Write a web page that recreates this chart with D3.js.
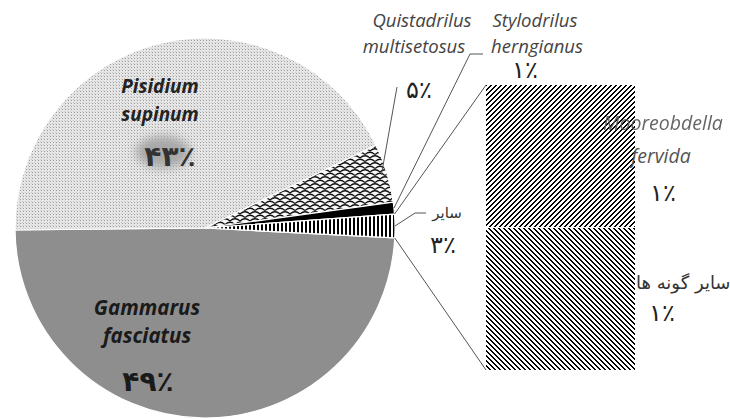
<!DOCTYPE html>
<html>
<head>
<meta charset="utf-8">
<script src="https://cdn.jsdelivr.net/npm/d3@7"></script>
<style>
  html, body { margin: 0; padding: 0; background: #fff; }
  svg { display: block; }
  .lat { font-family: "Open Sans", "Lato", "Liberation Sans", sans-serif; font-style: italic; }
  .fa { font-family: "DejaVu Sans", "Noto Sans", sans-serif; }
</style>
</head>
<body>
<svg id="chart" width="730" height="419"></svg>
<script>
// ---- data ----
const pieCategories = ["Gammarus fasciatus", "Pisidium supinum", "Quistadrilus multisetosus", "Stylodrilus herngianus", "سایر"];
const pieMainValues = [49, 43, 5, 1];
const pieLabels = ["۴۹٪", "۴۳٪", "۵٪", "۱٪", "۳٪"];
const barCategories = ["Mooreobdella fervida", "سایر گونه ها"];
const barValues = [1, 1];
const barLabels = ["۱٪", "۱٪"];

const pieValues = pieMainValues.concat([d3.sum(barValues)]);

// ---- layout ----
const cx = 205, cy = 228, R = 190;
const barX0 = 486, barX1 = 635, barTop = 85, barBottom = 370;
const deg = Math.PI / 180;

const svg = d3.select("#chart");
const defs = svg.append("defs");

// patterns
const pDots = defs.append("pattern").attr("id", "pDots").attr("patternUnits", "userSpaceOnUse").attr("width", 3).attr("height", 3);
pDots.append("rect").attr("width", 3).attr("height", 3).attr("fill", "#e6e6e6");
pDots.append("rect").attr("x", 1).attr("y", 1).attr("width", 1).attr("height", 1).attr("fill", "#9c9c9c");
pDots.append("rect").attr("x", 0).attr("y", 0).attr("width", 1).attr("height", 1).attr("fill", "#cccccc");

const pShingle = defs.append("pattern").attr("id", "pShingle").attr("patternUnits", "userSpaceOnUse").attr("width", 10).attr("height", 7);
pShingle.append("rect").attr("width", 10).attr("height", 7).attr("fill", "#fafafa");
pShingle.append("path").attr("d", "M-5,7 Q0,2.5 5,7 Q10,2.5 15,7 M0,3.5 Q5,-1 10,3.5")
  .attr("fill", "none").attr("stroke", "#111").attr("stroke-width", 1.2);
pShingle.append("path").attr("d", "M-5,0 Q0,-4.5 5,0 Q10,-4.5 15,0")
  .attr("fill", "none").attr("stroke", "#111").attr("stroke-width", 1.2);

const pVert = defs.append("pattern").attr("id", "pVert").attr("patternUnits", "userSpaceOnUse").attr("width", 4).attr("height", 4);
pVert.append("rect").attr("width", 4).attr("height", 4).attr("fill", "#fff");
pVert.append("rect").attr("width", 2).attr("height", 4).attr("fill", "#000");

// pixel-exact diagonal hatching
function diag(id, forward) {
  const n = 5;
  const p = defs.append("pattern").attr("id", id).attr("patternUnits", "userSpaceOnUse")
    .attr("width", n).attr("height", n).attr("patternTransform", `translate(${barX0},${barTop})`);
  p.append("rect").attr("width", n).attr("height", n).attr("fill", "#fff");
  for (let i = 0; i < n; i++) {
    const base = forward ? (n - 1 - i) : i;
    [0, 1].forEach(k => {
      p.append("rect").attr("x", i).attr("y", (base + k) % n).attr("width", 1).attr("height", 1)
        .attr("fill", "#000").attr("shape-rendering", "crispEdges");
    });
  }
}
diag("pFwd", true);
diag("pBack", false);

const blur = defs.append("filter").attr("id", "blur").attr("x", "-50%").attr("y", "-50%").attr("width", "200%").attr("height", "200%");
blur.append("feGaussianBlur").attr("stdDeviation", 5);

const pieFills = ["#8e8e8e", "url(#pDots)", "url(#pShingle)", "#000", "url(#pVert)"];
const barFills = ["url(#pFwd)", "url(#pBack)"];

// ---- pie ----
const start = 93 * deg;
const pie = d3.pie().sort(null).value(d => d).startAngle(start).endAngle(start + 2 * Math.PI);
const arcs = pie(pieValues);
const arc = d3.arc().innerRadius(0).outerRadius(R);

const g = svg.append("g").attr("transform", `translate(${cx},${cy})`);
g.selectAll("path.slice").data(arcs).join("path")
  .attr("class", "slice")
  .attr("d", arc)
  .attr("fill", (d, i) => pieFills[i])
  .attr("stroke", "#fff")
  .attr("stroke-width", 1.2);

function pt(a, r) { return [cx + r * Math.sin(a), cy - r * Math.cos(a)]; }

// ---- bar ----
const y = d3.scaleLinear().domain([0, d3.sum(barValues)]).range([barTop, barBottom]);
let cum = 0;
const barSegs = barValues.map((v, i) => { const s = { i, y0: cum, y1: cum + v }; cum += v; return s; });

svg.append("g").selectAll("rect").data(barSegs).join("rect")
  .attr("x", barX0).attr("width", barX1 - barX0)
  .attr("y", d => y(d.y0)).attr("height", d => y(d.y1) - y(d.y0))
  .attr("fill", d => barFills[d.i])
  .attr("shape-rendering", "crispEdges");
svg.append("line").attr("x1", barX0).attr("x2", barX1).attr("y1", y(barSegs[0].y1)).attr("y2", y(barSegs[0].y1))
  .attr("stroke", "#fff").attr("stroke-width", 1);

// labels for bar
const lab = svg.append("g");
lab.append("text").attr("class", "lat").attr("x", 663).attr("y", 130).attr("text-anchor", "middle")
  .attr("font-size", 19.5).attr("fill", "#555").attr("opacity", 0.9).text("Mooreobdella");
lab.append("text").attr("class", "lat").attr("x", 661).attr("y", 163).attr("text-anchor", "middle")
  .attr("font-size", 19.5).attr("fill", "#555").text("fervida");
lab.append("text").attr("class", "fa").attr("x", 663).attr("y", 201).attr("text-anchor", "middle")
  .attr("font-size", 24).attr("fill", "#222").text(barLabels[0]);
lab.append("text").attr("class", "fa").attr("x", 636).attr("y", 289).attr("text-anchor", "start")
  .attr("font-size", 18).attr("fill", "#333").text(barCategories[1]);
lab.append("text").attr("class", "fa").attr("x", 662).attr("y", 321).attr("text-anchor", "middle")
  .attr("font-size", 24).attr("fill", "#222").text(barLabels[1]);

// ---- connectors ----
const other = arcs[4];
const pTop = pt(other.startAngle, R), pBot = pt(other.endAngle, R);
const lines = svg.append("g").attr("stroke", "#555").attr("stroke-width", 1).attr("fill", "none");
lines.append("line").attr("x1", pTop[0]).attr("y1", pTop[1]).attr("x2", barX0).attr("y2", barTop);
lines.append("line").attr("x1", pBot[0]).attr("y1", pBot[1]).attr("x2", barX0).attr("y2", barBottom);

// leader lines
const mid = d => (d.startAngle + d.endAngle) / 2;
const pQ = pt(mid(arcs[2]), R * 0.97);
lines.append("polyline").attr("points", `397,87 ${pQ[0]},${pQ[1]}`);
const pS = pt(mid(arcs[3]), R);
lines.append("polyline").attr("points", `483,54 470,54 ${pS[0]},${pS[1]}`);
const pO = pt(mid(arcs[4]), R);
lines.append("polyline").attr("points", `426,213 415,213 ${pO[0]},${pO[1]}`);

// ---- pie labels ----
svg.append("ellipse").attr("cx", 163).attr("cy", 152).attr("rx", 27).attr("ry", 16)
  .attr("fill", "#a8a8a8").attr("filter", "url(#blur)");

const T = svg.append("g");
T.append("text").attr("class", "lat").attr("x", 160).attr("y", 93).attr("text-anchor", "middle")
  .attr("font-size", 19).attr("font-weight", "bold").attr("fill", "#222").text("Pisidium");
T.append("text").attr("class", "lat").attr("x", 160).attr("y", 121).attr("text-anchor", "middle")
  .attr("font-size", 19).attr("font-weight", "bold").attr("fill", "#222").text("supinum");
T.append("text").attr("class", "fa").attr("x", 170).attr("y", 166).attr("text-anchor", "middle")
  .attr("font-size", 28).attr("font-weight", "bold").attr("fill", "#333").text(pieLabels[1]);

T.append("text").attr("class", "lat").attr("x", 147).attr("y", 315).attr("text-anchor", "middle")
  .attr("font-size", 20.5).attr("font-weight", "bold").attr("fill", "#1a1a1a").text("Gammarus");
T.append("text").attr("class", "lat").attr("x", 147).attr("y", 343).attr("text-anchor", "middle")
  .attr("font-size", 20.5).attr("font-weight", "bold").attr("fill", "#1a1a1a").text("fasciatus");
T.append("text").attr("class", "fa").attr("x", 148).attr("y", 391).attr("text-anchor", "middle")
  .attr("font-size", 28).attr("font-weight", "bold").attr("fill", "#1a1a1a").text(pieLabels[0]);

T.append("text").attr("class", "lat").attr("x", 422).attr("y", 27).attr("text-anchor", "middle")
  .attr("font-size", 18.5).attr("fill", "#444").text("Quistadrilus");
T.append("text").attr("class", "lat").attr("x", 414).attr("y", 53).attr("text-anchor", "middle")
  .attr("font-size", 18.5).attr("fill", "#444").text("multisetosus");
T.append("text").attr("class", "fa").attr("x", 419).attr("y", 98).attr("text-anchor", "middle")
  .attr("font-size", 24).attr("fill", "#222").text(pieLabels[2]);

T.append("text").attr("class", "lat").attr("x", 535).attr("y", 27).attr("text-anchor", "middle")
  .attr("font-size", 18.5).attr("fill", "#444").text("Stylodrilus");
T.append("text").attr("class", "lat").attr("x", 537).attr("y", 53).attr("text-anchor", "middle")
  .attr("font-size", 18.5).attr("fill", "#444").text("herngianus");
T.append("text").attr("class", "fa").attr("x", 525).attr("y", 78).attr("text-anchor", "middle")
  .attr("font-size", 24).attr("fill", "#222").text(pieLabels[3]);

T.append("text").attr("class", "fa").attr("x", 447).attr("y", 218).attr("text-anchor", "middle")
  .attr("font-size", 15).attr("fill", "#333").text(pieCategories[4]);
T.append("text").attr("class", "fa").attr("x", 443).attr("y", 253).attr("text-anchor", "middle")
  .attr("font-size", 24).attr("fill", "#222").text(pieLabels[4]);
</script>
</body>
</html>
